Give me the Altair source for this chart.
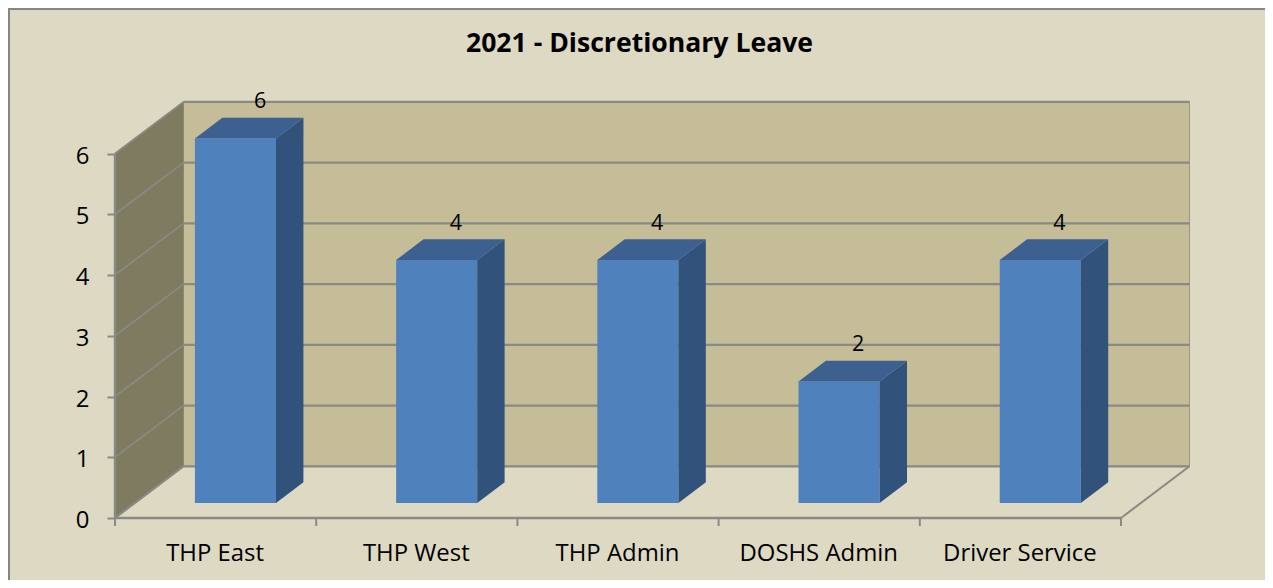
import altair as alt
import pandas as pd

title = "2021 - Discretionary Leave"
categories = ["THP East", "THP West", "THP Admin", "DOSHS Admin", "Driver Service"]
values = [6, 4, 4, 2, 4]
y_ticks = [0, 1, 2, 3, 4, 5, 6]

BG = "#DDD9C3"; WALL = "#C4BD97"; SIDEWALL = "#7F7B60"; GRID = "#8A8A84"
FRONT = "#4F81BD"; SIDE = "#31527B"; TOP = "#3C6190"; FONT = "Open Sans"; INK = "#000000"

W, H = 1257, 572
X0, Y0, XU, YU = 107, 510, 201.2, 60.75   # canvas position of origin, pixels per unit
DX, DY = 68.5 / XU, 51.7 / YU             # oblique offset of the back plane, in data units
D0, D1 = 0.29, 0.69                       # depth range of the bars
BAR_W = 0.403
n, top_v = len(categories), max(y_ticks)

xs = alt.Scale(domain=[-X0 / XU, (W - X0) / XU], range=[0, W], nice=False, zero=False)
ys = alt.Scale(domain=[-(H - Y0) / YU, Y0 / YU], range=[H, 0], nice=False, zero=False)
X = alt.X("x:Q", scale=xs, title=None,
          axis=alt.Axis(values=[i + 0.5 for i in range(n)], grid=False, domain=False, ticks=False,
                        labelExpr="%r[floor(datum.value)]" % categories, labelFont=FONT, labelFontSize=23.9,
                        labelColor=INK, labelPadding=23, labelOffset=-1, offset=Y0 - H,
                        labelOverlap=False, labelFlush=False))
Y = alt.Y("y:Q", scale=ys, title=None,
          axis=alt.Axis(values=y_ticks, grid=False, domain=False, tickSize=8, tickWidth=2, tickColor=GRID,
                        labelFont=FONT, labelFontSize=23.9, labelColor=INK, labelPadding=18, labelOffset=2.5,
                        format="d", offset=-X0))
Y2 = alt.Y2("yb:Q")


def area(rows, color):
    return alt.Chart(pd.DataFrame(rows, columns=["id", "x", "y", "yb"])).mark_area(color=color).encode(
        x=X, y=Y, y2=Y2, detail="id:N")


def lines(rows, width, color=GRID):
    return alt.Chart(pd.DataFrame(rows, columns=["id", "x", "y"])).mark_line(
        color=color, strokeWidth=width
    ).encode(x=X, y=Y, detail="id:N", order="x:Q")


wall = alt.Chart(pd.DataFrame([{"x": DX, "xb": n + DX, "y": DY, "yb": top_v + DY}])).mark_rect(
    color=WALL, stroke="#9A9680", strokeWidth=1
).encode(x=X, x2="xb:Q", y=Y, y2=Y2)

side_wall = area([(0, 0, 0, top_v), (0, DX, DY, top_v + DY)], SIDEWALL)

grid_back = lines([(v, x, v + DY) for v in y_ticks for x in (DX, n + DX)], 2.2)
grid_side = lines([(v, x, v + d) for v in y_ticks for x, d in ((0, 0), (DX, DY))], 1.6)
frame_side = lines([("a", 0, 0), ("a", DX, DY)] + [("b", n, 0), ("b", n + DX, DY)], 2)
base_line = lines([("a", 0, 0), ("a", n, 0)], 2.4)
left_line = alt.Chart(pd.DataFrame({"x": [0], "y": [0], "yb": [top_v]})).mark_rule(color=GRID, strokeWidth=2.4).encode(x=X, y=Y, y2=Y2)

tick_rule = alt.Chart(pd.DataFrame({"x": list(range(n + 1)), "y": [0.0] * (n + 1), "yb": [-8 / YU] * (n + 1)})).mark_rule(
    color=GRID, strokeWidth=2
).encode(x=X, y=Y, y2=Y2)

fronts, sides, tops, labels = [], [], [], []
for i, v in enumerate(values):
    a0 = i + 0.5 - BAR_W / 2 + D0 * DX
    b0 = a0 + BAR_W
    base = D0 * DY
    d = D1 - D0
    ddx, ddy = d * DX, d * DY
    fronts.append({"x": a0, "xb": b0, "y": base, "yb": base + v})
    sides += [(i, b0, base, base + v), (i, b0 + ddx, base + ddy, base + v + ddy)]
    tops += [(i, a0, base + v, base + v), (i, a0 + ddx, base + v, base + v + ddy),
             (i, b0, base + v, base + v + ddy), (i, b0 + ddx, base + v + ddy, base + v + ddy)]
    label_depth = 0.65 if i == 0 else 0.57
    labels.append({"x": i + 0.5 + label_depth * DX, "y": base + v + ddy, "label": str(v)})

front = alt.Chart(pd.DataFrame(fronts)).mark_rect(color=FRONT).encode(x=X, x2="xb:Q", y=Y, y2=Y2)
side = area(sides, SIDE)
top = area(tops, TOP)
text = alt.Chart(pd.DataFrame(labels)).mark_text(
    font=FONT, fontSize=21.5, color=INK, dy=-15.5, baseline="middle", align="center"
).encode(x=X, y=Y, text="label:N")

x_lo, x_hi = xs.domain[0], xs.domain[1]
y_lo, y_hi = ys.domain[0], ys.domain[1]
frame_top = lines([("t", x_lo, y_hi), ("t", x_hi, y_hi)], 4, "#868686")
frame_left = alt.Chart(pd.DataFrame({"x": [x_lo], "y": [y_lo], "yb": [y_hi]})).mark_rule(
    color="#868686", strokeWidth=4).encode(x=X, y=Y, y2=Y2)

chart = alt.layer(
    wall, side_wall, grid_back, grid_side, frame_side, base_line, left_line, tick_rule,
    front, side, top, text, frame_top, frame_left
).properties(
    width=W, height=H, padding=0, background=BG,
    autosize=alt.AutoSizeParams(type="none"),
    title=alt.TitleParams(title, font=FONT, fontSize=26.6, fontWeight="bold", color=INK,
                          anchor="middle", frame="group", offset=-58, dx=3),
).configure_view(stroke=None)

chart.save("out.html", embed_options={"renderer": "svg", "actions": False})
